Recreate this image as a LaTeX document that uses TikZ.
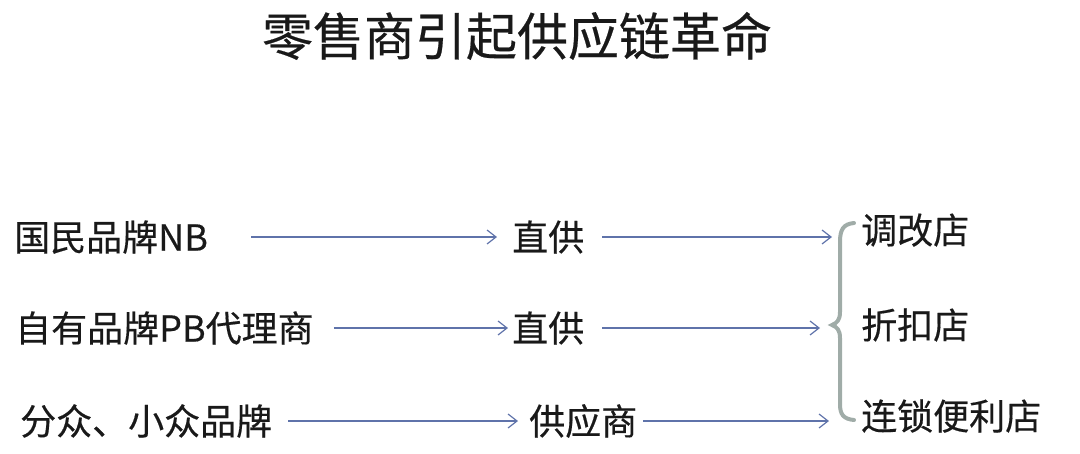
\documentclass[tikz,border=0pt]{standalone}
\usepackage{fontspec}
\setmainfont{Noto Sans CJK SC}[FakeBold=0.4]
\usetikzlibrary{arrows.meta}
\definecolor{arrowblue}{RGB}{95,115,170}
\definecolor{bracegray}{RGB}{160,172,168}
\definecolor{textdark}{RGB}{25,25,25}
\tikzset{
  lbl/.style={anchor=west, inner sep=0pt, text=textdark, font=\fontsize{36}{40}\selectfont, text height=31.7pt, text depth=4.3pt},
  arr/.style={draw=arrowblue, line width=1.4pt, -{Straight Barb[length=9pt,width=14pt,line width=1.2pt]}},
  bracestyle/.style={draw=bracegray, line width=4pt, line cap=round}
}
\begin{document}
\begin{tikzpicture}[x=1pt,y=-1pt]
\useasboundingbox (0,0) rectangle (1080,453);
\node[anchor=center, inner sep=0pt, text=textdark, font=\fontsize{51}{56}\selectfont, text height=44.9pt, text depth=6.1pt] (title) at (517,36) {零售商引起供应链革命};
% left column
\node[lbl] (a1) at (14,237) {国民品牌NB};
\node[lbl] (a2) at (15,328) {自有品牌PB代理商};
\node[lbl] (a3) at (20,421) {分众、小众品牌};
% middle column
\node[lbl] (b1) at (512,237) {直供};
\node[lbl] (b2) at (512,328) {直供};
\node[lbl] (b3) at (529,421) {供应商};
% right column
\node[lbl] (c1) at (861,230) {调改店};
\node[lbl] (c2) at (861,325) {折扣店};
\node[lbl] (c3) at (861,416) {连锁便利店};
% arrows
\draw[arr, shorten <=43pt, shorten >=15pt] (a1.east) -- (b1.west);
\draw[arr, shorten <=20pt, shorten >=4pt] (a2.east) -- (b2.west);
\draw[arr, shorten <=16pt, shorten >=11pt] (a3.east) -- (b3.west);
\draw[arr, shorten <=18pt, shorten >=29pt] (b1.east) -- (b1.east -| c1.west);
\draw[arr, shorten <=18pt, shorten >=41pt] (b2.east) -- (b2.east -| c2.west);
\draw[arr, shorten <=6pt, shorten >=32pt] (b3.east) -- (b3.east -| c3.west);
% brace
\coordinate (btop) at (854,223);
\coordinate (bbot) at (854,420);
\draw[bracestyle] (btop) .. controls (843,224) and (840,230) .. (840,242)
  -- (840,312) .. controls (840,320) and (837,323) .. (832,325)
  .. controls (837,327) and (840,330) .. (840,338)
  -- (840,404) .. controls (840,414) and (843,419) .. (bbot);
\end{tikzpicture}
\end{document}
